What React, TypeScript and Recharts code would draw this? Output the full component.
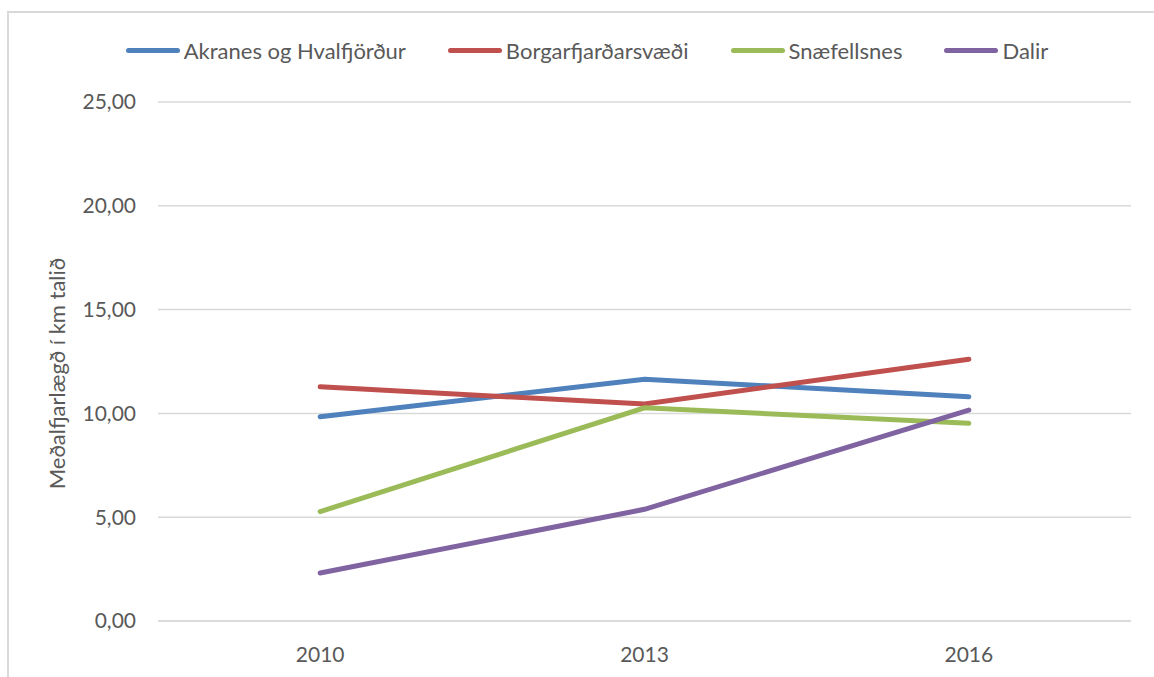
import { LineChart, Line, XAxis, YAxis, CartesianGrid, Legend } from 'recharts';

const years = ['2010', '2013', '2016'];
const akranes = [9.84, 11.65, 10.8];
const borgarfjordur = [11.28, 10.45, 12.61];
const snaefellsnes = [5.27, 10.27, 9.52];
const dalir = [2.31, 5.38, 10.16];
const yTicks = [0, 5, 10, 15, 20, 25];

const seriesInfo = [
    { key: 'akranes', name: 'Akranes og Hvalfjörður', color: '#4f81bd' },
    { key: 'borg', name: 'Borgarfjarðarsvæði', color: '#c0504d' },
    { key: 'snae', name: 'Snæfellsnes', color: '#9bbb59' },
    { key: 'dalir', name: 'Dalir', color: '#8064a2' },
];

const data = years.map((y, i) => ({
    year: y,
    akranes: akranes[i],
    borg: borgarfjordur[i],
    snae: snaefellsnes[i],
    dalir: dalir[i],
}));

const font = 'Lato, "Open Sans", sans-serif';
const textColor = '#595959';
const gridColor = '#d9d9d9';

const fmt = (v: number) => v.toFixed(2).replace('.', ',');

const LegendContent = () => (
    <div style={{ display: 'flex', justifyContent: 'center', alignItems: 'center', gap: 42, fontFamily: font, fontSize: 22, color: textColor, paddingLeft: 20 }}>
        {seriesInfo.map(s => (
            <div key={s.key} style={{ display: 'flex', alignItems: 'center' }}>
                <span style={{ display: 'inline-block', width: 54, height: 5, borderRadius: 3, background: s.color, marginRight: 4 }} />
                <span>{s.name}</span>
            </div>
        ))}
    </div>
);

export default function App() {
    return (
        <div style={{ position: 'absolute', left: 0, top: 0, width: 1154, height: 677, background: '#fff', overflow: 'hidden' }}>
            <div style={{ position: 'absolute', left: 7, top: 11, width: 1200, height: 700, borderLeft: `2px solid ${gridColor}`, borderTop: `2px solid ${gridColor}` }} />
            <LineChart width={1154} height={677} data={data} margin={{ top: 102, right: 23, left: 0, bottom: 26 }}>
                <CartesianGrid vertical={false} stroke={gridColor} strokeWidth={1.5} />
                <XAxis
                    dataKey="year"
                    scale="band"
                    axisLine={{ stroke: gridColor, strokeWidth: 1.5 }}
                    tickLine={false}
                    tickMargin={20}
                    tick={{ fill: textColor, fontSize: 21, fontFamily: font }}
                />
                <YAxis
                    width={158}
                    domain={[0, 25]}
                    ticks={yTicks}
                    axisLine={false}
                    tickLine={false}
                    tickMargin={16}
                    tickFormatter={fmt}
                    tick={{ fill: textColor, fontSize: 21, fontFamily: font }}
                    label={{ value: 'Meðalfjarlægð í km talið', angle: -90, position: 'insideLeft', dx: 52, dy: 12, fill: textColor, fontSize: 22, fontFamily: font, style: { textAnchor: 'middle' } }}
                />
                <Legend verticalAlign="middle" layout="horizontal" wrapperStyle={{ top: 37, left: 0, width: 1154 }} content={<LegendContent />} />
                {seriesInfo.map(s => (
                    <Line
                        key={s.key}
                        type="linear"
                        dataKey={s.key}
                        name={s.name}
                        stroke={s.color}
                        strokeWidth={5}
                        strokeLinecap="round"
                        dot={false}
                        activeDot={false}
                        isAnimationActive={false}
                    />
                ))}
            </LineChart>
        </div>
    );
}
